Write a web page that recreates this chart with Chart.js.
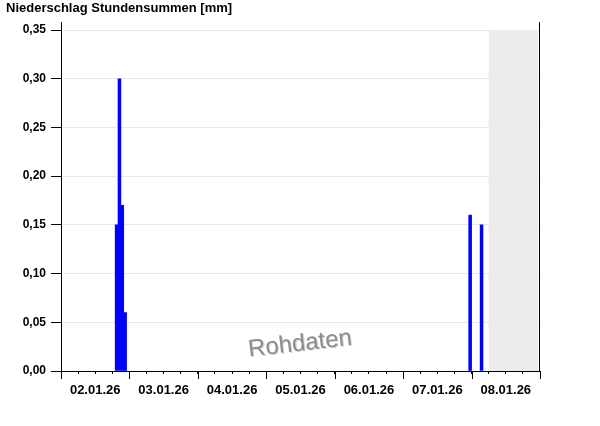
<!DOCTYPE html>
<html>
<head>
<meta charset="utf-8">
<script src="https://cdn.jsdelivr.net/npm/chart.js@4/dist/chart.umd.min.js"></script>
<style>
html,body{margin:0;padding:0;background:#fff;}
#wrap{width:600px;height:426px;position:relative;}
</style>
</head>
<body>
<div id="wrap"><canvas id="c" width="600" height="426"></canvas></div>
<script>
// Data (hours counted from 02.01.26 00:00)
const dayLabels = ['02.01.26','03.01.26','04.01.26','05.01.26','06.01.26','07.01.26','08.01.26'];
const rainHours = [19, 20, 21, 22, 143, 147];
const rainValues = [0.15, 0.30, 0.17, 0.06, 0.16, 0.15];
const axisStartHour = 0;
const axisEndHour = 168;
const forecastStartHour = 150;
const yMax = 0.35;
const yStep = 0.05;
const titleText = 'Niederschlag Stundensummen [mm]';
const watermarkText = 'Rohdaten';

const FONT = '"Liberation Sans", Arial, Helvetica, sans-serif';

const points = rainHours.map((h, i) => ({ x: h + 0.5, y: rainValues[i] }));

const extras = {
  id: 'extras',
  beforeDatasetsDraw(chart) {
    const { ctx, chartArea: a, scales: { x } } = chart;
    const x0 = x.getPixelForValue(forecastStartHour);
    ctx.save();
    ctx.fillStyle = '#ececec';
    ctx.fillRect(x0, a.top, a.right - x0 - 2, a.bottom - a.top);
    ctx.restore();
  },
  afterDraw(chart) {
    const { ctx, chartArea: a, scales: { x } } = chart;
    ctx.save();
    ctx.strokeStyle = '#000';
    ctx.lineWidth = 1;
    ctx.beginPath();
    for (let h = axisStartHour; h <= axisEndHour; h += 24) {
      const px = Math.round(x.getPixelForValue(h)) + 0.5;
      ctx.moveTo(px, a.bottom);
      ctx.lineTo(px, a.bottom + 8);
    }
    const l = Math.round(a.left) + 0.5;
    const r = Math.round(a.right) - 0.5;
    ctx.moveTo(l, a.top - 8);
    ctx.lineTo(l, a.top);
    ctx.moveTo(r, a.top - 8);
    ctx.lineTo(r, a.bottom);
    ctx.stroke();

    // watermark
    ctx.translate(300, 344);
    ctx.rotate(-6.5 * Math.PI / 180);
    ctx.font = '24px ' + FONT;
    ctx.textAlign = 'center';
    ctx.textBaseline = 'middle';
    ctx.fillStyle = '#d4d4d4';
    ctx.fillText(watermarkText, 1, 1);
    ctx.fillStyle = '#8c8c8c';
    ctx.fillText(watermarkText, 0, 0);
    ctx.restore();
  }
};

new Chart(document.getElementById('c'), {
  type: 'bar',
  data: {
    datasets: [{
      data: points,
      backgroundColor: '#0000ff',
      borderWidth: 0,
      barPercentage: 1,
      categoryPercentage: 1
    }]
  },
  options: {
    responsive: false,
    animation: false,
    devicePixelRatio: 1,
    layout: { padding: { left: 6, right: 60, top: 0, bottom: 0 } },
    plugins: {
      legend: { display: false },
      tooltip: { enabled: false },
      title: {
        display: true,
        text: titleText,
        align: 'start',
        color: '#000',
        font: { family: FONT, size: 13, weight: 'bold' },
        padding: { top: 1, bottom: 13.4 }
      }
    },
    scales: {
      x: {
        type: 'linear',
        min: axisStartHour,
        max: axisEndHour,
        offset: false,
        afterFit(s) { s.height = 55; },
        grid: { offset: false, drawOnChartArea: false, tickLength: 3, tickColor: '#000' },
        border: { display: true, color: '#000', width: 1 },
        ticks: {
          stepSize: 6,
          autoSkip: false,
          maxRotation: 0,
          minRotation: 0,
          padding: 9,
          color: '#000',
          font: { family: FONT, size: 13, weight: 'bold' },
          callback: (v) => (v % 24 === 12 ? dayLabels[(v - 12) / 24] : '')
        }
      },
      y: {
        min: 0,
        max: yMax,
        afterFit(s) { s.width = 55; },
        grid: { color: '#e8e8e8', tickColor: '#000', tickLength: 10, lineWidth: 1 },
        border: { display: true, color: '#000', width: 1 },
        ticks: {
          stepSize: yStep,
          padding: 5,
          color: '#000',
          font: { family: FONT, size: 12, weight: 'bold' },
          callback: (v) => v.toFixed(2).replace('.', ',')
        }
      }
    }
  },
  plugins: [extras]
});
</script>
</body>
</html>
